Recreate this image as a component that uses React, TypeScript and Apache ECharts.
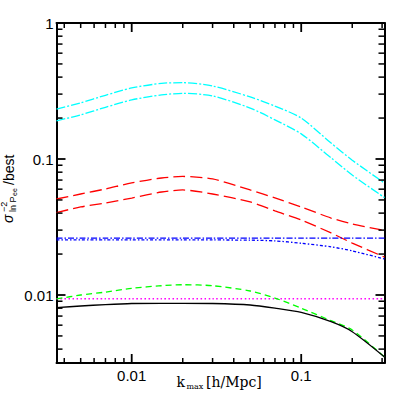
import React, { useEffect, useRef } from "react";
import * as echarts from "echarts";

// k_max values (h/Mpc)
const kmax = [0.0036, 0.005, 0.007, 0.01, 0.015, 0.02, 0.03, 0.05, 0.07, 0.1, 0.15, 0.2, 0.31];

const cyanUpper = [0.233, 0.259, 0.294, 0.333, 0.36, 0.364, 0.344, 0.286, 0.245, 0.2, 0.131, 0.098, 0.0665];
const cyanLower = [0.191, 0.211, 0.24, 0.272, 0.296, 0.304, 0.291, 0.237, 0.194, 0.153, 0.102, 0.0762, 0.052];
const redUpper = [0.0508, 0.0553, 0.0602, 0.0667, 0.0725, 0.0744, 0.0713, 0.0592, 0.0517, 0.0444, 0.0368, 0.0333, 0.0298];
const redLower = [0.0404, 0.0444, 0.0475, 0.0516, 0.0572, 0.0592, 0.0553, 0.0483, 0.0415, 0.0356, 0.0286, 0.0241, 0.019];
const blueUpper = [0.0262, 0.0262, 0.0262, 0.0262, 0.0262, 0.0262, 0.0262, 0.0262, 0.0262, 0.0262, 0.0262, 0.0262, 0.0262];
const blueLower = [0.0254, 0.0254, 0.0254, 0.0254, 0.0254, 0.0254, 0.0254, 0.0253, 0.025, 0.024, 0.0226, 0.0211, 0.0184];
const magenta = [0.0094, 0.0094, 0.0094, 0.0094, 0.0094, 0.0094, 0.0094, 0.0094, 0.0094, 0.0094, 0.0094, 0.0094, 0.0094];
const green = [0.00935, 0.01, 0.0105, 0.0112, 0.0117, 0.0119, 0.0117, 0.0107, 0.0095, 0.008, 0.00647, 0.00553, 0.0035];
const black = [0.00807, 0.0083, 0.0085, 0.00866, 0.00869, 0.00869, 0.00866, 0.00844, 0.008, 0.00744, 0.00636, 0.00537, 0.0035];

// axis ticks
const xMajorTicks = [0.01, 0.1];
const yMajorTicks = [0.01, 0.1];
const xMinorTicks = [0.004, 0.005, 0.006, 0.007, 0.008, 0.009, 0.02, 0.03, 0.04, 0.05, 0.06, 0.07, 0.08, 0.09, 0.2, 0.3];
const yMinorTicks = [0.004, 0.005, 0.006, 0.007, 0.008, 0.009, 0.02, 0.03, 0.04, 0.05, 0.06, 0.07, 0.08, 0.09, 0.2, 0.3, 0.4, 0.5, 0.6, 0.7, 0.8, 0.9];

const X_MIN = 0.0036;
const X_MAX = 0.31;
const Y_MIN = Math.pow(10, -2.5);
const Y_MAX = 1;

const GRID = { left: 56.5, right: 22.5, top: 23, bottom: 44 };
const W = 407;
const H = 407;

const pairs = (ys: number[]) => kmax.map((k, i) => [k, ys[i]]);

const labelFmt = (v: number) => {
  const e = Math.log10(v);
  const r = Math.round(e);
  if (Math.abs(e - r) > 1e-6) return "";
  return r >= 0 ? String(Math.pow(10, r)) : Math.pow(10, r).toFixed(-r);
};

const TICK_FONT = "Liberation Sans";

function makeAxis(kind: "x" | "y", position: string, showLabel: boolean, min: number, max: number) {
  return {
    type: "log",
    logBase: 10,
    min,
    max,
    position,
    axisLine: { show: true, onZero: false, lineStyle: { color: "#000", width: 2 } },
    axisTick: { show: false },
    axisLabel: {
      show: showLabel,
      formatter: labelFmt,
      color: "#000",
      fontSize: 15,
      fontFamily: TICK_FONT,
      margin: kind === "x" ? 5 : 3,
      showMinLabel: false,
      showMaxLabel: kind === "y",
    },
    splitLine: { show: false },
    minorTick: { show: false },
  };
}

const lineSeries = (name: string, ys: number[], color: string, type: any, width = 1.3) => ({
  name,
  type: "line",
  data: pairs(ys),
  showSymbol: false,
  symbol: "none",
  smooth: 0.25,
  lineStyle: { color, width, type },
  xAxisIndex: 0,
  yAxisIndex: 0,
  z: 3,
});

const t = (text: string, x: number, y: number, size: number, family: string, extra: any = {}) => ({
  type: "text",
  x,
  y,
  silent: true,
  style: {
    text,
    fill: "#000",
    fontSize: size,
    fontFamily: family,
    align: "left",
    textAlign: "left",
    verticalAlign: "middle",
    textVerticalAlign: "middle",
    ...extra,
  },
});

const labelGraphics = [
  {
    type: "group",
    x: 0,
    y: 223,
    rotation: Math.PI / 2,
    silent: true,
    children: [
      t("σ", 0, 8, 14, TICK_FONT, { fontStyle: "italic" }),
      t("−2", 11, 4, 9, TICK_FONT),
      t("ln P", 11, 12.5, 9, TICK_FONT),
      t("ee", 27, 14.5, 7, TICK_FONT),
      t("/best", 38, 8.5, 14, TICK_FONT),
    ],
  },
  t("k", 176.5, 382, 14, "DejaVu Serif"),
  t("max", 186.5, 386, 8, "DejaVu Serif"),
  t("[h/Mpc]", 206, 382, 14, "DejaVu Serif"),
];

// tick lengths expressed as factors along the log axes (pixels -> decades from the grid size)
const plotW = W - GRID.left - GRID.right;
const plotH = H - GRID.top - GRID.bottom;
const xDecadesPerPx = (Math.log10(X_MAX) - Math.log10(X_MIN)) / plotW;
const yDecadesPerPx = (Math.log10(Y_MAX) - Math.log10(Y_MIN)) / plotH;
const yFactor = (px: number) => Math.pow(10, px * yDecadesPerPx);
const xFactor = (px: number) => Math.pow(10, px * xDecadesPerPx);

const seg = (a: number[], b: number[], width: number) => ({
  type: "line",
  data: [a, b],
  showSymbol: false,
  symbol: "none",
  clip: false,
  z: 10,
  lineStyle: { color: "#000", width, type: "solid" },
  xAxisIndex: 0,
  yAxisIndex: 0,
});

function tickSeries() {
  const out: any[] = [];
  const xt = (vals: number[], len: number, w: number) =>
    vals.forEach((v) => {
      out.push(seg([v, Y_MIN], [v, Y_MIN * yFactor(len)], w));
      out.push(seg([v, Y_MAX], [v, Y_MAX / yFactor(len)], w));
    });
  const yt = (vals: number[], len: number, w: number) =>
    vals.forEach((v) => {
      out.push(seg([X_MIN, v], [X_MIN * xFactor(len), v], w));
      out.push(seg([X_MAX, v], [X_MAX / xFactor(len), v], w));
    });
  xt(xMajorTicks, 9, 1.8);
  xt(xMinorTicks, 5, 1.5);
  yt(yMajorTicks, 9, 1.8);
  yt(yMinorTicks, 6, 1.5);
  return out;
}

export default function App() {
  const ref = useRef<HTMLDivElement>(null);
  useEffect(() => {
    if (!ref.current) return;
    const chart = echarts.init(ref.current, undefined, { renderer: "svg" });
    const option: any = {
      animation: false,
      backgroundColor: "#fff",
      grid: { ...GRID, containLabel: false },
      xAxis: [makeAxis("x", "bottom", true, X_MIN, X_MAX), makeAxis("x", "top", false, X_MIN, X_MAX)],
      yAxis: [makeAxis("y", "left", true, Y_MIN, Y_MAX), makeAxis("y", "right", false, Y_MIN, Y_MAX)],
      series: [
        lineSeries("cyan upper", cyanUpper, "#00ffff", [9, 2, 2, 2]),
        lineSeries("cyan lower", cyanLower, "#00ffff", [9, 2, 2, 2]),
        lineSeries("red upper", redUpper, "#ff0000", [12, 5]),
        lineSeries("red lower", redLower, "#ff0000", [12, 5]),
        lineSeries("blue upper", blueUpper, "#0000ff", [6, 2, 1.5, 2]),
        lineSeries("blue lower", blueLower, "#0000ff", [3, 2, 1.5, 2]),
        lineSeries("magenta", magenta, "#ff00ff", [1.5, 2.5], 1.5),
        lineSeries("green", green, "#00ff00", [6, 4]),
        lineSeries("black", black, "#000000", "solid"),
        ...tickSeries(),
      ],
      graphic: labelGraphics,
    };
    chart.setOption(option);
    return () => chart.dispose();
  }, []);
  return (
    <div
      ref={ref}
      style={{ position: "fixed", left: 0, top: 0, width: W, height: H, background: "#fff" }}
    />
  );
}
